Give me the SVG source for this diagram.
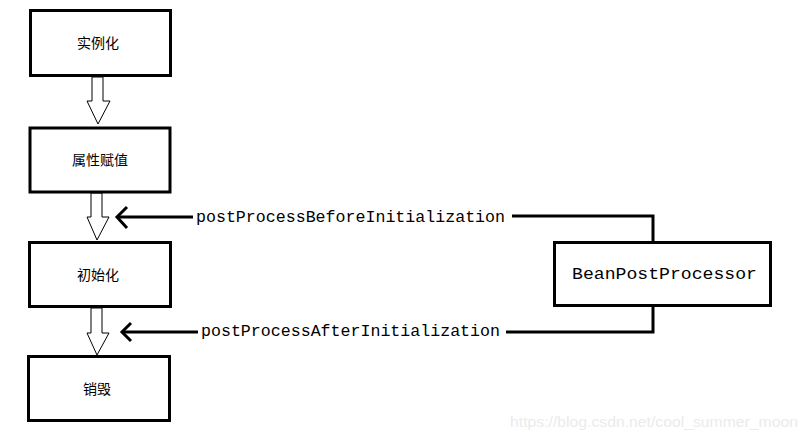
<svg xmlns="http://www.w3.org/2000/svg" width="807" height="440" viewBox="0 0 807 440">
<style>
.box{fill:#fff;stroke:#000;stroke-width:3}
.cn{font-family:"Noto Sans CJK SC","Noto Sans",sans-serif;font-size:14px;fill:#000;text-anchor:middle}
.mono{font-family:"Liberation Mono","DejaVu Sans Mono",monospace;font-size:16.5px;fill:#000}
.hollow{fill:#fff;stroke:#000;stroke-width:1}
.line{fill:none;stroke:#000;stroke-width:3}
</style>
<rect width="807" height="440" fill="#fff"/>
<g id="connectors">
<polygon class="hollow" points="92,77 103,77 103,101 110,101 98,124 87,101 92,101"/>
<polygon class="hollow" points="91,193 102,193 102,217 109,217 97,240 87,217 91,217"/>
<polygon class="hollow" points="91,308 102,308 102,333 109,333 97,355 87,333 91,333"/>
<path class="line" d="M193,217 H118"/>
<polyline class="line" points="127,207 117,217 127,228"/>
<path class="line" d="M512,216 H653 V242"/>
<path class="line" d="M198,332 H123"/>
<polyline class="line" points="131,323 122,332 131,341"/>
<path class="line" d="M506,332 H653 V307"/>
<text class="mono" x="196" y="222" textLength="309" lengthAdjust="spacingAndGlyphs">postProcessBeforeInitialization</text>
<text class="mono" x="201" y="336" textLength="299" lengthAdjust="spacingAndGlyphs">postProcessAfterInitialization</text>
</g>
<g id="n1"><rect class="box" x="30.5" y="10.5" width="140" height="65"/><text class="cn" x="98" y="48">实例化</text></g>
<g id="n2"><rect class="box" x="30" y="128" width="140" height="64"/><text class="cn" x="100" y="165">属性赋值</text></g>
<g id="n3"><rect class="box" x="29.5" y="242.5" width="141" height="64"/><text class="cn" x="98" y="280">初始化</text></g>
<g id="n4"><rect class="box" x="28.5" y="356.5" width="141" height="64"/><text class="cn" x="97" y="394">销毁</text></g>
<g id="bpp"><rect class="box" x="554.5" y="242.5" width="216" height="63"/><text class="mono" x="572" y="279" font-size="18" textLength="185" lengthAdjust="spacingAndGlyphs">BeanPostProcessor</text></g>
<text x="510" y="427" font-family="Liberation Sans,Arial,sans-serif" font-size="14" fill="#ebebeb" textLength="288" lengthAdjust="spacingAndGlyphs">https://blog.csdn.net/cool_summer_moon</text>
</svg>
